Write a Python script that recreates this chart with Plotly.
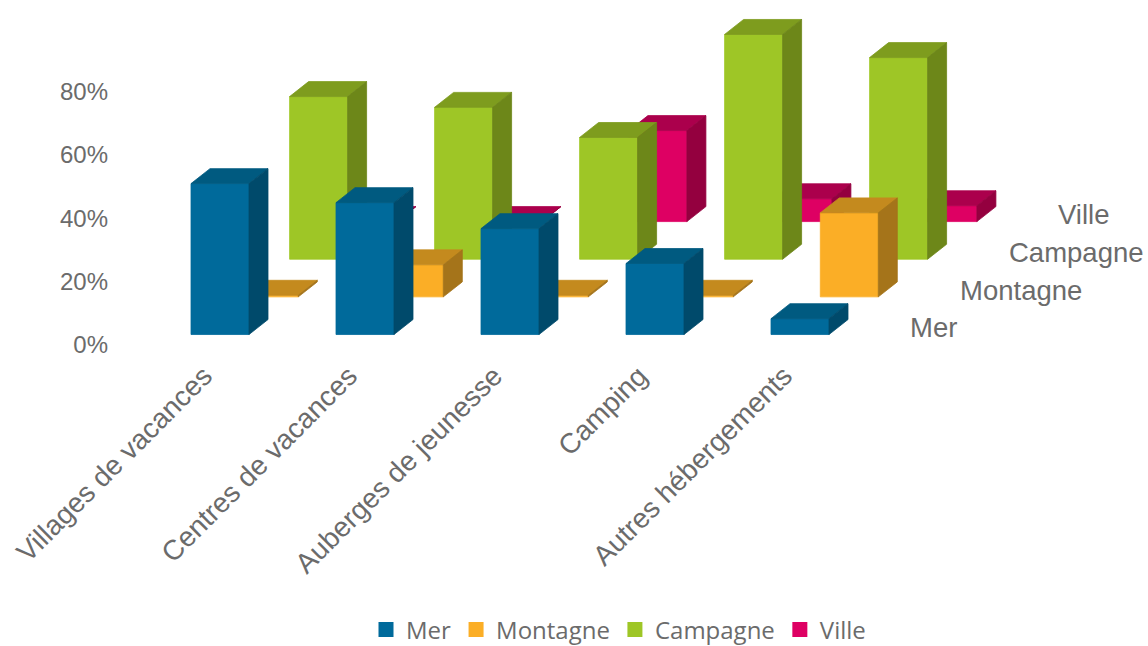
import plotly.graph_objects as go

# Data (percent)
categories = ["Villages de vacances", "Centres de vacances", "Auberges de jeunesse", "Camping", "Autres hébergements"]
series_names = ["Mer", "Montagne", "Campagne", "Ville"]
mer = [47.6, 41.6, 33.4, 22.4, 5.0]
montagne = [0.5, 10.1, 0.5, 0.5, 26.5]
campagne = [51.3, 47.9, 38.4, 70.9, 63.6]
ville = [0.0, 0.0, 28.7, 7.2, 5.0]
percent_ticks = [0, 20, 40, 60, 80]

# Styling and oblique-projection constants
front_colors = ["#006A9B", "#FBAE26", "#9EC626", "#DE0063"]
top_colors = ["#005A80", "#C48A1E", "#7E9C1E", "#AB004C"]
side_colors = ["#004A6B", "#A5741A", "#6D8719", "#94003F"]
W, H = 1148, 646
PX_X, PX_Y = 145.0, 3.175
L_PAGE, Y0_PAGE, X0 = 112, 345.5, 220
bar_w = 58 / PX_X
depth_x, depth_y = 19 / PX_X, 15 / PX_Y
row_dx, row_dy = 49.3 / PX_X, 37.7 / PX_Y
floor = 10.5 / PX_Y

all_values = [mer, montagne, campagne, ville]
fig = go.Figure()


def closed(points):
    xs, ys = [], []
    for p in points:
        xs.append(p[0]); ys.append(p[1])
    xs.append(points[0][0]); ys.append(points[0][1])
    return xs, ys


for s in range(3, -1, -1):
    f_x, f_y, t_x, t_y, r_x, r_y = [], [], [], [], [], []
    for i, v in enumerate(all_values[s]):
        x0 = i - bar_w / 2 + s * row_dx
        x1 = x0 + bar_w
        b = floor + s * row_dy
        h = b + v
        for acc_x, acc_y, poly in (
            (f_x, f_y, [(x0, b), (x1, b), (x1, h), (x0, h)]),
            (t_x, t_y, [(x0, h), (x1, h), (x1 + depth_x, h + depth_y), (x0 + depth_x, h + depth_y)]),
            (r_x, r_y, [(x1, b), (x1 + depth_x, b + depth_y), (x1 + depth_x, h + depth_y), (x1, h)]),
        ):
            xs, ys = closed(poly)
            acc_x += xs + [None]
            acc_y += ys + [None]
    for xs, ys, col in ((f_x, f_y, front_colors[s]), (t_x, t_y, top_colors[s]), (r_x, r_y, side_colors[s])):
        fig.add_trace(go.Scatter(x=xs, y=ys, mode="lines", fill="toself", fillcolor=col,
                                 line=dict(width=0.8, color=col), showlegend=False,
                                 hoverinfo="skip", name=series_names[s]))

for s, name in enumerate(series_names):
    fig.add_trace(go.Scatter(x=[None], y=[None], mode="markers", name=name,
                             marker=dict(symbol="square", size=15, color=front_colors[s])))

# Depth-axis labels
depth_label_x = [908, 958, 1007, 1056]
for s, name in enumerate(series_names):
    fig.add_annotation(x=(depth_label_x[s] - X0) / PX_X, y=floor + s * row_dy + 2.1, text=name,
                       xref="x", yref="y", xanchor="left", yanchor="middle", showarrow=False,
                       font=dict(family="Liberation Sans", size=27.5, color="#6b6b6b"))

fig.update_layout(
    width=W, height=H, autosize=False,
    paper_bgcolor="white", plot_bgcolor="white",
    margin=dict(l=L_PAGE, r=0, t=0, b=H - Y0_PAGE, pad=0),
    xaxis=dict(range=[(L_PAGE - X0) / PX_X, (W - X0) / PX_X], tickmode="array",
               tickvals=[i - 16 / PX_X for i in range(len(categories))], ticktext=categories, tickangle=-45,
               ticks="", showgrid=False, zeroline=False, showline=False, ticklabelstandoff=8,
               tickfont=dict(family="Liberation Sans", size=28, color="#6b6b6b")),
    yaxis=dict(range=[0, Y0_PAGE / PX_Y], tickmode="array", tickvals=percent_ticks,
               ticktext=[f"{t}%" for t in percent_ticks], ticks="", showgrid=False,
               zeroline=False, showline=False, ticklabelstandoff=3,
               tickfont=dict(family="Liberation Sans", size=24, color="#6b6b6b")),
    legend=dict(orientation="h", x=(366 - L_PAGE) / (W - L_PAGE), xref="paper",
                y=(H - 630) / H, yref="container",
                xanchor="left", yanchor="middle", font=dict(family="Open Sans", size=24, color="#6b6b6b"),
                bgcolor="rgba(0,0,0,0)"),
)
fig.write_html("out.html", config={"displayModeBar": False},
               post_script="document.body.style.margin='0';document.documentElement.style.overflow='hidden';")
